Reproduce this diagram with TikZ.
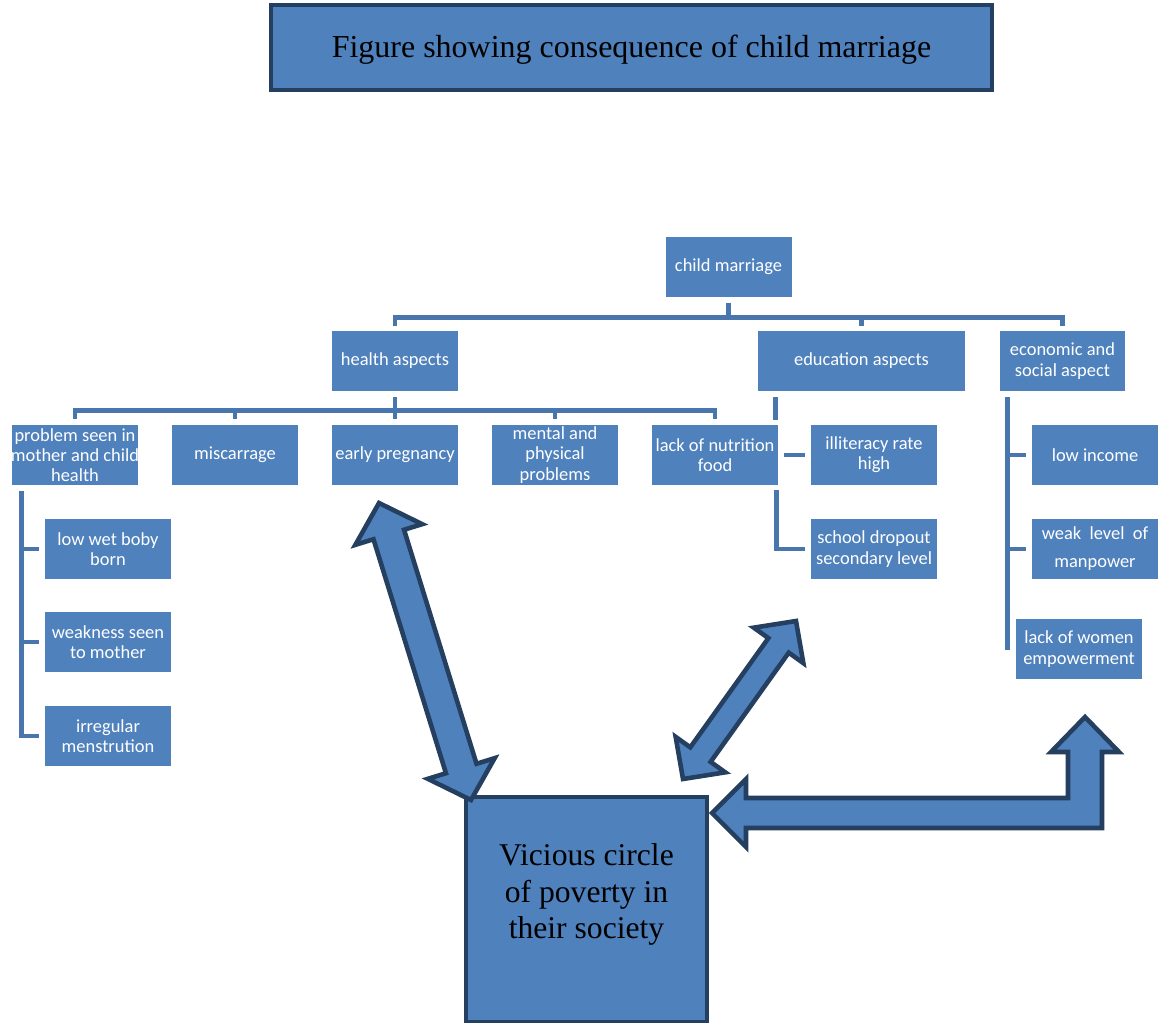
\documentclass[tikz,border=0pt]{standalone}
\usepackage{fontspec}
\setmainfont{Liberation Serif}
\newfontfamily\calfont{Carlito}
\usetikzlibrary{calc}
\definecolor{boxblue}{HTML}{4F81BD}
\definecolor{navy}{HTML}{243F60}
\definecolor{linkblue}{HTML}{4A76AE}
\tikzset{
  smallbox/.style={fill=boxblue, text=white, minimum width=2.52cm, minimum height=1.2cm,
    inner sep=0pt, align=center,
    font=\calfont\fontsize{10.5}{11.5}\selectfont},
  link/.style={draw=linkblue, line width=2.8pt},
  fat/.style={fill=boxblue, draw=navy, line width=2.6pt, line join=miter},
  bigbox/.style={fill=boxblue, draw=navy, line width=2.6pt, inner sep=0pt},
}
\newcommand\dblarrow[5]{%
  \coordinate (da1) at ($(#1)!#3!(#2)$);
  \coordinate (db1) at ($(#2)!#3!(#1)$);
  \draw[fat] (#1) -- ($(da1)!#4!90:(#2)$) -- ($(da1)!#5!90:(#2)$)
    -- ($(db1)!#5!-90:(#1)$) -- ($(db1)!#4!-90:(#1)$) -- (#2)
    -- ($(db1)!#4!90:(#1)$) -- ($(db1)!#5!90:(#1)$)
    -- ($(da1)!#5!-90:(#2)$) -- ($(da1)!#4!-90:(#2)$) -- cycle;}
\begin{document}
\begin{tikzpicture}[x=0.02cm,y=-0.02cm]
\useasboundingbox (0,0) rectangle (1165,1023);

% title
\node[bigbox, line width=2.3pt, minimum width=14.42cm, minimum height=1.7cm] (title) at (631.5,47.5) {};
\node[font=\fontsize{18.2}{22}\selectfont] (titletext) at ($(title.center)+(0,2)$) {Figure showing consequence of child marriage};

% tree nodes
\node[smallbox] (cm) at (728.5,267) {child marriage};
\node[smallbox] (ha) at (395,361) {health aspects};
\node[smallbox, minimum width=4.14cm] (ea) at (861.5,361) {education aspects};
\node[smallbox, minimum width=2.5cm] (es) at (1062.5,361) {economic and\\social aspect};

\node[smallbox] (ps) at (75,455) {\makebox[2.4cm]{problem seen in}\\\makebox[2.4cm]{mother and child}\\health};
\node[smallbox] (mi) at (235,455) {miscarrage};
\node[smallbox] (ep) at (395,455) {early pregnancy};
\node[smallbox] (mp) at (555,455) {mental and\\physical\\problems};
\node[smallbox] (ln) at (715,455) {lack of nutrition\\food};
\node[smallbox] (il) at (874,455) {illiteracy rate\\high};
\node[smallbox] (sd) at (874,549) {school dropout\\secondary level};

\node[smallbox] (li) at (1095,455) {low income};
\node[smallbox, font=\calfont\fontsize{10.5}{16}\selectfont] (wl) at (1095,549) {weak\ \ level\ \ of\\manpower};
\node[smallbox] (lw) at (1079,649) {lack of women\\empowerment};

\node[smallbox] (lb) at (108,549) {low wet boby\\born};
\node[smallbox] (wk) at (108,642) {weakness seen\\to mother};
\node[smallbox] (ir) at (108,736) {irregular\\menstrution};

% vicious circle box
\node[bigbox, minimum width=4.82cm, minimum height=4.5cm] (vc) at (586.5,909.5) {};
\node[font=\fontsize{18}{20.7}\selectfont, align=center] (vct) at ($(vc.center)+(0,-15)$) {Vicious circle\\of poverty in\\their society};

% connectors: child marriage
\draw[link] ($(cm.south)+(0,6)$) -- ($(cm.south)+(0,21)$);
\draw[link] ($(ha.north)+(0,-5)$) |- ($(es.north)+(0,-13)$) -- ($(es.north)+(0,-5)$);
\draw[link] ($(ea.north)+(0,-5)$) -- ($(ea.north)+(0,-13)$);

% connectors: health aspects
\draw[link] ($(ha.south)+(0,6)$) -- ($(ha.south)+(0,20)$);
\draw[link] ($(ps.north)+(0,-6)$) |- ($(ln.north)+(0,-14)$) -- ($(ln.north)+(0,-6)$);
\foreach \n in {mi,ep,mp}
  \draw[link] ($(\n.north)+(0,-6)$) -- ($(\n.north)+(0,-14)$);

% connectors: problem seen column
\draw[link] ($(ps.south west)+(10,6)$) |- ($(ir.west)+(-6,0)$);
\draw[link] ($(lb.west)+(-23,0)$) -- ($(lb.west)+(-6,0)$);
\draw[link] ($(wk.west)+(-23,0)$) -- ($(wk.west)+(-6,0)$);

% connectors: education
\draw[link] ($(ea.south west)+(18,6)$) -- ($(ea.south west)+(18,29)$);
\draw[link] ($(il.west)+(-27,0)$) -- ($(il.west)+(-6,0)$);
\draw[link] ($(ln.south east)+(-2,5)$) |- ($(sd.west)+(-6,0)$);

% connectors: economic
\draw[link] ($(es.south west)+(8,6)$) -- ($(es.south west)+(8,259)$);
\draw[link] ($(li.west)+(-24,0)$) -- ($(li.west)+(-6,0)$);
\draw[link] ($(wl.west)+(-24,0)$) -- ($(wl.west)+(-6,0)$);

% thick double arrows
\coordinate (a1s) at (379,503);
\coordinate (a1e) at (471,800);
\dblarrow{a1s}{a1e}{0.66cm}{0.7cm}{0.32cm}
\coordinate (a2s) at (796,621);
\coordinate (a2e) at (683,779);
\dblarrow{a2s}{a2e}{0.6cm}{0.61cm}{0.25cm}

% bent arrow
\draw[fat] (712,813) -- (746,779) -- (746,798) -- (1068,798) -- (1068,752)
  -- (1051,752) -- (1085,717) -- (1119,752) -- (1102,752) -- (1102,828)
  -- (746,828) -- (746,847) -- cycle;
\end{tikzpicture}
\end{document}
